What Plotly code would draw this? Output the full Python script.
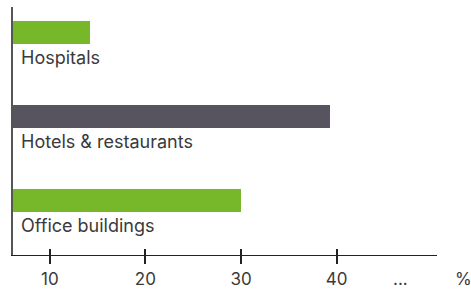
import plotly.graph_objects as go

categories = ["Hospitals", "Hotels & restaurants", "Office buildings"]
values = [14.2, 39.3, 30.0]
colors = ["#77B82A", "#57545F", "#77B82A"]
tick_vals = [10, 20, 30, 40]
tick_text = ["10", "20", "30", "40"]

FONT = "Inter"
TXT = "#3a3a3a"
x_range = [6.15, 50.5]
y_pos = list(range(len(categories)))

fig = go.Figure()
fig.add_trace(go.Bar(
    x=[v - x_range[0] for v in values], y=y_pos, orientation="h", base=x_range[0],
    marker=dict(color=colors, line=dict(width=0)),
    width=0.274, hoverinfo="skip", showlegend=False,
))
fig.add_trace(go.Scatter(x=[x_range[0]], y=[0], xaxis="x2", mode="markers",
                         marker=dict(opacity=0), showlegend=False, hoverinfo="skip"))

for i, c in enumerate(categories):
    fig.add_annotation(text=c, xref="paper", x=0, xshift=6, xanchor="left",
                       yref="y", y=i + 0.30, yanchor="middle", showarrow=False,
                       font=dict(family=FONT, size=18, color=TXT))

fig.add_annotation(text="...", xref="paper", x=(400 - 13) / 424, yref="paper", y=0,
                   yshift=-24, xanchor="center", yanchor="middle", showarrow=False,
                   font=dict(family=FONT, size=17, color=TXT))
fig.add_annotation(text="%", xref="paper", x=(463 - 13) / 424, yref="paper", y=0,
                   yshift=-24, xanchor="center", yanchor="middle", showarrow=False,
                   font=dict(family=FONT, size=17, color=TXT))

fig.update_layout(
    width=471, height=290,
    margin=dict(l=13, r=34, t=7, b=35, autoexpand=False),
    plot_bgcolor="white", paper_bgcolor="white",
    xaxis=dict(range=x_range, tickvals=tick_vals, ticktext=tick_text,
               ticks="outside", ticklen=8, tickwidth=1.5, tickcolor="#222",
               showline=True, linecolor="#222", linewidth=1.2,
               showgrid=False, zeroline=False, fixedrange=True,
               tickfont=dict(family=FONT, size=17, color=TXT)),
    xaxis2=dict(range=x_range, overlaying="x", side="bottom", anchor="y",
                tickvals=tick_vals, showticklabels=False,
                ticks="inside", ticklen=6, tickwidth=1.5, tickcolor="#222",
                showline=False, showgrid=False, zeroline=False),
    yaxis=dict(range=[2.655, -0.304], showticklabels=False, ticks="",
               showline=True, linecolor="#555", linewidth=2,
               showgrid=False, zeroline=False),
    bargap=0,
)

fig.write_html("out.html", config={"displayModeBar": False},
               post_script="document.body.style.margin='0';document.body.style.overflow='hidden';")
